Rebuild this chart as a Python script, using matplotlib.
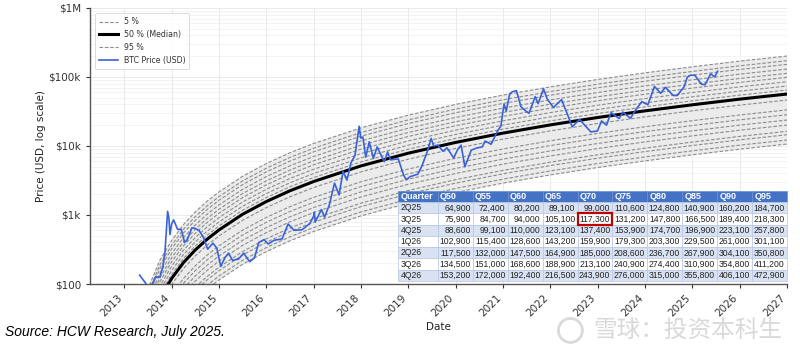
import matplotlib
matplotlib.use("Agg")
import matplotlib.pyplot as plt
import matplotlib.dates as mdates
import matplotlib.ticker as mticker
from matplotlib.patches import Rectangle, Ellipse
import numpy as np
import pandas as pd

# BTC price (USD)
price_dates = [
    "2013-04-28", "2013-05-20", "2013-06-15", "2013-07-05", "2013-08-01", "2013-09-01",
    "2013-10-01", "2013-10-25", "2013-11-10", "2013-11-18", "2013-11-30", "2013-12-10",
    "2013-12-18", "2013-12-31", "2014-01-15", "2014-02-15", "2014-03-15", "2014-04-10",
    "2014-05-01", "2014-06-05", "2014-07-01", "2014-08-01", "2014-09-01", "2014-10-05",
    "2014-11-15", "2014-12-15", "2015-01-14", "2015-02-15", "2015-03-15", "2015-04-15",
    "2015-06-01", "2015-07-10", "2015-08-25", "2015-10-01", "2015-11-04", "2015-12-15",
    "2016-01-15", "2016-03-01", "2016-05-01", "2016-06-17", "2016-08-01", "2016-10-01",
    "2016-12-01", "2016-12-31", "2017-01-05", "2017-01-12", "2017-03-01", "2017-03-25",
    "2017-05-01", "2017-06-10", "2017-07-15", "2017-08-15", "2017-09-14", "2017-10-15",
    "2017-11-15", "2017-12-17", "2017-12-30", "2018-01-15", "2018-02-06", "2018-03-05",
    "2018-04-06", "2018-05-05", "2018-06-29", "2018-07-25", "2018-08-15", "2018-10-15",
    "2018-11-25", "2018-12-15", "2019-01-15", "2019-03-15", "2019-04-15", "2019-05-30",
    "2019-06-26", "2019-07-15", "2019-08-15", "2019-09-25", "2019-10-26", "2019-12-17",
    "2020-01-15", "2020-02-12", "2020-03-12", "2020-04-30", "2020-06-15", "2020-07-25",
    "2020-08-15", "2020-10-01", "2020-11-15", "2020-12-15", "2021-01-08", "2021-01-25",
    "2021-02-21", "2021-03-13", "2021-04-14", "2021-05-19", "2021-06-22", "2021-07-20",
    "2021-09-06", "2021-09-28", "2021-11-09", "2021-12-05", "2022-01-24", "2022-03-28",
    "2022-05-12", "2022-06-18", "2022-08-14", "2022-09-30", "2022-11-09", "2022-12-30",
    "2023-01-31", "2023-03-10", "2023-04-14", "2023-06-15", "2023-07-14", "2023-09-11",
    "2023-10-24", "2023-12-08", "2024-01-23", "2024-03-14", "2024-05-01", "2024-06-07",
    "2024-08-05", "2024-09-06", "2024-10-29", "2024-11-22", "2024-12-17", "2025-01-20",
    "2025-03-10", "2025-04-08", "2025-05-22", "2025-06-22", "2025-07-14",
]
price_usd = [
    135, 118, 102, 70, 98, 128,
    125, 180, 300, 500, 1130, 900,
    520, 740, 850, 620, 620, 400,
    440, 650, 640, 590, 480, 320,
    390, 330, 180, 240, 280, 220,
    230, 280, 210, 240, 400, 440,
    380, 430, 450, 740, 600, 610,
    750, 960, 1100, 790, 1200, 930,
    1400, 2900, 1950, 4300, 3200, 5700,
    7300, 19300, 13000, 13500, 6900, 11500,
    6600, 9700, 5900, 8200, 6300, 6500,
    3800, 3250, 3600, 3900, 5100, 8600,
    12900, 10000, 10300, 8400, 9400, 6700,
    8800, 10300, 5000, 8700, 9400, 9700,
    11800, 10600, 16000, 19500, 40500, 32000,
    57000, 61000, 63500, 37000, 32500, 29800,
    52000, 41000, 67500, 49000, 36000, 47000,
    29000, 19000, 24300, 19400, 16000, 16500,
    23100, 20000, 30500, 25000, 31000, 25200,
    34000, 44000, 39500, 73000, 58000, 71000,
    54000, 54000, 72000, 99000, 106000, 106000,
    79000, 77000, 111000, 100000, 121000,
]

# model median (USD)
model_dates = [
    "2013-04-01", "2013-07-01", "2013-10-01", "2014-01-01", "2014-04-01", "2014-07-01",
    "2014-10-01", "2015-01-01", "2015-07-01", "2016-01-01", "2016-07-01", "2017-01-01",
    "2018-01-01", "2019-01-01", "2020-01-01", "2021-01-01", "2022-01-01", "2023-01-01",
    "2024-01-01", "2025-01-01", "2026-01-01", "2027-01-01",
]
model_median = [
    4.8, 24, 62, 121, 204, 311,
    446, 608, 1023, 1567, 2244, 3062,
    5152, 7870, 11270, 15380, 20230, 25880,
    32280, 39540, 47750, 56620,
]

# quantile lines: distance from the median in decades (log10)
quantile_levels = [5, 10, 15, 20, 25, 30, 35, 40, 45, 50, 55, 60, 65, 70, 75, 80, 85, 90, 95]
quantile_offsets = [-0.725, -0.667, -0.59, -0.54, -0.45, -0.377, -0.30, -0.23, -0.087, 0.0,
                    0.058, 0.116, 0.178, 0.242, 0.30, 0.362, 0.43, 0.483, 0.551]

# forecast table
table_cols = ["Quarter", "Q50", "Q55", "Q60", "Q65", "Q70", "Q75", "Q80", "Q85", "Q90", "Q95"]
table_quarters = ["2Q25", "3Q25", "4Q25", "1Q26", "2Q26", "3Q26", "4Q26"]
q50 = [64900, 75900, 88600, 102900, 117500, 134500, 153200]
q55 = [72400, 84700, 99100, 115400, 132000, 151000, 172000]
q60 = [80200, 94000, 110000, 128600, 147500, 168600, 192400]
q65 = [89100, 105100, 123100, 143200, 164900, 188900, 216500]
q70 = [99000, 117300, 137400, 159900, 185000, 213100, 243900]
q75 = [110600, 131200, 153900, 179300, 208600, 240900, 276000]
q80 = [124800, 147800, 174700, 203300, 236700, 274400, 315000]
q85 = [140900, 166500, 196900, 229500, 267900, 310900, 355800]
q90 = [160200, 189400, 223100, 261000, 304100, 354800, 406100]
q95 = [184700, 218300, 257800, 301100, 350800, 411200, 472900]
highlight_row, highlight_col = "3Q25", "Q70"

plt.rcParams["font.family"] = "DejaVu Sans"

fig = plt.figure(figsize=(8, 3.58), dpi=100)
ax = fig.add_axes([0.1125, 0.2067, 0.87125, 0.771])

px = pd.to_datetime(price_dates)
mx = pd.to_datetime(model_dates)
med = np.array(model_median, dtype=float)

lines = {}
for q, off in zip(quantile_levels, quantile_offsets):
    lines[q] = med * 10 ** off

ax.fill_between(mx, lines[5], lines[95], color="#ebebeb", zorder=1, lw=0)
for q in quantile_levels:
    if q == 50:
        continue
    ax.plot(mx, lines[q], color="#8c8c8c", lw=0.8, ls=(0, (3.2, 1.6)), zorder=2)
h5, = ax.plot([], [], color="#8c8c8c", lw=0.8, ls=(0, (3.2, 1.6)), label="5 %")
h50, = ax.plot(mx, med, color="black", lw=2.2, zorder=3, label="50 % (Median)")
h95, = ax.plot([], [], color="#8c8c8c", lw=0.8, ls=(0, (3.2, 1.6)), label="95 %")
hbtc, = ax.plot(px, price_usd, color="#3a62d8", lw=1.2, zorder=4, label="BTC Price (USD)")

ax.set_yscale("log")
ax.set_ylim(100, 1e6)
ax.set_xlim(pd.Timestamp("2012-04-10"), pd.Timestamp("2027-01-01"))

ax.yaxis.set_major_locator(mticker.FixedLocator([1e2, 1e3, 1e4, 1e5, 1e6]))
ax.yaxis.set_major_formatter(mticker.FixedFormatter(["$100", "$1k", "$10k", "$100k", "$1M"]))
ax.yaxis.set_minor_locator(mticker.LogLocator(base=10, subs=np.arange(2, 10)))
ax.yaxis.set_minor_formatter(mticker.NullFormatter())
ax.xaxis.set_major_locator(mdates.YearLocator())
ax.xaxis.set_major_formatter(mdates.DateFormatter("%Y"))
plt.setp(ax.get_xticklabels(), rotation=45, ha="right")

ax.tick_params(axis="both", which="major", labelsize=7.5, colors="#333333", length=3, width=0.8)
ax.tick_params(axis="y", which="minor", length=0)
ax.grid(which="major", color="#e6e6e6", lw=0.6)
ax.grid(which="minor", axis="y", color="#efefef", lw=0.5)
ax.set_axisbelow(True)
for s in ["top", "right"]:
    ax.spines[s].set_visible(False)
for s in ["left", "bottom"]:
    ax.spines[s].set_color("#555555")
    ax.spines[s].set_linewidth(1.0)

ax.set_xlabel("Date", fontsize=7.5, color="#222222", labelpad=2)
ax.set_ylabel("Price (USD, log scale)", fontsize=7.5, color="#222222", labelpad=2)

leg = ax.legend(handles=[h5, h50, h95, hbtc], loc="upper left", fontsize=5.7,
                frameon=True, handlelength=2.4, borderpad=0.5, labelspacing=0.5,
                handletextpad=0.7, bbox_to_anchor=(0.002, 0.995))
leg.get_frame().set_edgecolor("#cccccc")
leg.get_frame().set_linewidth(0.6)
for t in leg.get_texts():
    t.set_color("#333333")

# table
series = [q50, q55, q60, q65, q70, q75, q80, q85, q90, q95]
cell_text = []
for i, qtr in enumerate(table_quarters):
    cell_text.append([qtr] + [f"{s[i]:,}" for s in series])

col_w = [40] + [35] * 10
tbl = ax.table(cellText=cell_text, colLabels=table_cols, cellLoc="right", colLoc="left",
               colWidths=[w / sum(col_w) for w in col_w],
               bbox=[0.442, 0.011, 0.558, 0.326])
tbl.auto_set_font_size(False)
tbl.set_fontsize(6.2)
tbl.set_zorder(6)
for (r, c), cell in tbl.get_celld().items():
    cell.set_linewidth(0.5)
    cell.PAD = 0.06
    txt = cell.get_text()
    txt.set_fontfamily("Liberation Sans")
    if r == 0:
        cell.set_facecolor("#4472c4")
        cell.set_edgecolor("#6d8fd0")
        txt.set_color("white")
        txt.set_fontweight("bold")
        txt.set_fontsize(6.5)
    else:
        cell.set_facecolor("#d9e2f3" if r % 2 == 1 else "white")
        cell.set_edgecolor("#b7c6e4")
        txt.set_color("#222222")
    if c == 0:
        cell._loc = "left"
        txt.set_horizontalalignment("left")

fig.canvas.draw()
hr = table_quarters.index(highlight_row) + 1
hc = table_cols.index(highlight_col)
hcell = tbl.get_celld()[(hr, hc)]
ax.add_patch(Rectangle((hcell.get_x(), hcell.get_y()), hcell.get_width(), hcell.get_height(),
                       transform=ax.transAxes, fill=False, edgecolor="#c00000", lw=1.6,
                       zorder=7, clip_on=False))

fig.text(0.006, 0.073, "Source: HCW Research, July 2025.", fontsize=10, style="italic",
         family="Liberation Sans", va="center", ha="left", color="black")

# watermark
fig.patches.append(Ellipse((0.713, 0.077), 0.03, 0.067, transform=fig.transFigure,
                           fill=False, edgecolor="#d9d9d9", lw=2))
fig.text(0.741, 0.077, "雪球：投资本科生", fontsize=17, family=["Noto Sans CJK SC", "DejaVu Sans"],
         color="#d9d9d9", va="center", ha="left")

fig.savefig("out.png", dpi=100)
